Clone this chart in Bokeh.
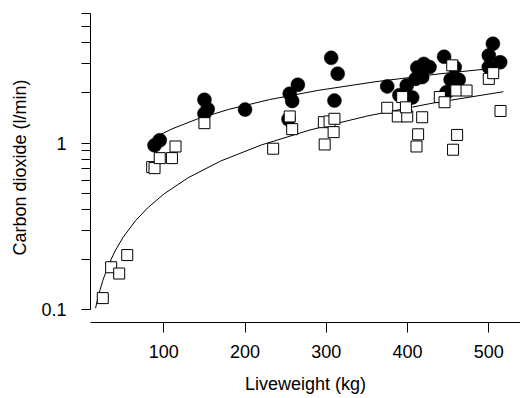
from bokeh.plotting import figure
from bokeh.models import FixedTicker, Range1d
from bokeh.embed import file_html
from bokeh.resources import INLINE

# Filled circles (group 1)
circle_kg = [88.6, 95, 150, 154, 150, 200, 253.5, 255, 258, 265, 306, 314, 310,
             375, 390, 399, 405.7, 412, 420, 427, 410, 418, 445, 458, 453, 463, 448,
             505, 500, 514, 500]
circle_co2 = [0.97, 1.04, 1.82, 1.60, 1.50, 1.59, 1.39, 1.98, 1.79, 2.24, 3.25, 2.61, 1.80,
              2.19, 1.94, 2.22, 1.88, 2.84, 2.99, 2.86, 2.43, 2.49, 3.30, 2.86, 2.40, 2.40, 2.02,
              3.95, 3.36, 3.06, 2.86]

# Open squares (group 2)
square_kg = [24.9, 35.2, 45.1, 55, 85.7, 88.6, 95, 110, 114.4, 150, 234.6, 255, 258,
             297, 304, 310, 309, 298, 375, 388, 399.6, 393.4, 398, 418, 413, 411,
             439.7, 445.5, 455, 460, 472.6, 461, 456, 500, 505.4, 514.4]
square_co2 = [0.1175, 0.180, 0.165, 0.213, 0.718, 0.708, 0.813, 0.813, 0.955, 1.318, 0.926, 1.446, 1.213,
              1.336, 1.35, 1.40, 1.164, 0.982, 1.63, 1.446, 1.446, 1.89, 1.64, 1.43, 1.13, 0.955,
              1.89, 1.76, 2.93, 2.07, 2.07, 1.12, 0.913, 2.43, 2.63, 1.56]

# Fitted curves
fit1_kg = [88, 110, 140, 180, 230, 290, 360, 440, 518]
fit1_co2 = [1.076, 1.217, 1.389, 1.595, 1.825, 2.073, 2.335, 2.608, 2.853]
fit2_kg = [16, 20, 25, 32, 40, 50, 65, 80, 100, 130, 170, 220, 280, 350, 430, 518]
fit2_co2 = [0.1023, 0.1240, 0.1502, 0.1858, 0.2251, 0.2726, 0.3417, 0.4084, 0.4949,
            0.6202, 0.7811, 0.9750, 1.1998, 1.4536, 1.7351, 2.0361]

x_ticks = [100, 200, 300, 400, 500]
y_ticks = [0.1, 1]
y_minor = [0.2, 0.3, 0.4, 0.5, 0.6, 0.7, 0.8, 0.9, 2, 3, 4, 5, 6]

FONT = "Liberation Sans"

p = figure(width=520, height=398, y_axis_type="log",
           x_range=Range1d(9.78, 539.0), y_range=Range1d(0.08389, 6.081),
           output_backend="svg", toolbar_location=None,
           min_border_left=90, min_border_right=0, min_border_top=12, min_border_bottom=76)
p.outline_line_color = None
p.xgrid.visible = False
p.ygrid.visible = False
p.background_fill_color = "white"
p.border_fill_color = "white"

p.line(fit1_kg, fit1_co2, line_color="black", line_width=1)
p.line(fit2_kg, fit2_co2, line_color="black", line_width=1)
p.scatter(circle_kg, circle_co2, marker="circle", size=14,
          fill_color="black", line_color="black", line_width=0.5)
p.scatter(square_kg, square_co2, marker="square", size=11,
          fill_color="white", line_color="black", line_width=1)

xa = p.xaxis[0]
xa.ticker = FixedTicker(ticks=x_ticks)
xa.axis_label = "Liveweight (kg)"
xa.major_tick_out = 10
xa.major_tick_in = 0
xa.minor_tick_out = 0
xa.minor_tick_in = 0
xa.major_label_standoff = 12
xa.axis_label_standoff = 13

ya = p.yaxis[0]
ya.ticker = FixedTicker(ticks=y_ticks, minor_ticks=y_minor)
ya.major_label_overrides = {0.1: "0.1", 1: "1"}
ya.axis_label = "Carbon dioxide (l/min)"
ya.bounds = (0.1, 6)
ya.major_tick_out = 9
ya.major_tick_in = 0
ya.minor_tick_out = 9
ya.minor_tick_in = 0
ya.major_label_standoff = 15
ya.axis_label_standoff = 8

for ax in (xa, ya):
    ax.axis_line_color = "black"
    ax.major_tick_line_color = "black"
    ax.minor_tick_line_color = "black"
    ax.major_label_text_font = FONT
    ax.major_label_text_font_size = "18px"
    ax.major_label_text_color = "black"
    ax.axis_label_text_font = FONT
    ax.axis_label_text_font_size = "18px"
    ax.axis_label_text_font_style = "normal"
    ax.axis_label_text_color = "black"

open("out.html", "w").write(file_html(p, INLINE))
